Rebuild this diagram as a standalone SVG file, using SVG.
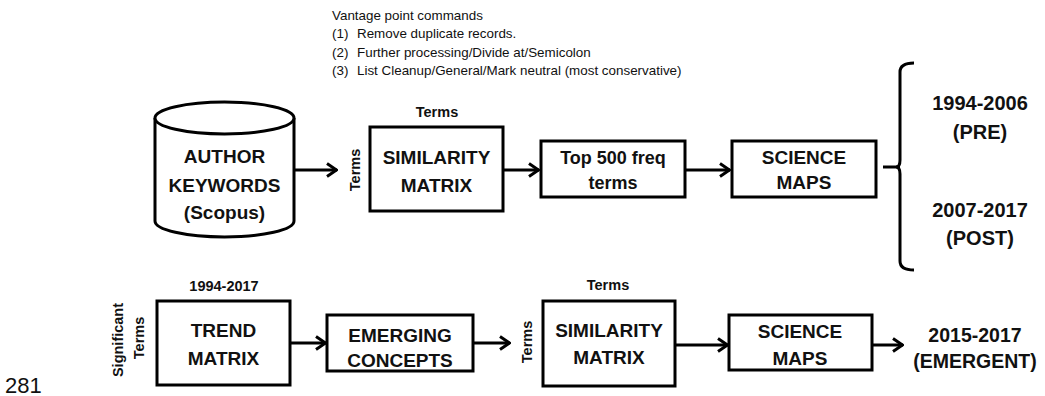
<svg xmlns="http://www.w3.org/2000/svg" width="1045" height="396" viewBox="0 0 1045 396">
  <style>
    .box { fill: #fff; stroke: #000; stroke-width: 3; }
    .lbl { font-family: "Liberation Sans", Arial, sans-serif; font-weight: bold; font-size: 19px; fill: #111; text-anchor: middle; }
    .small { font-family: "Liberation Sans", Arial, sans-serif; font-weight: bold; font-size: 14.5px; fill: #111; text-anchor: middle; }
    .big { font-family: "Liberation Sans", Arial, sans-serif; font-weight: bold; font-size: 20px; fill: #111; text-anchor: middle; }
    .note { font-family: "Liberation Sans", Arial, sans-serif; font-size: 13.4px; fill: #111; }
    .conn { stroke: #000; stroke-width: 3; fill: none; }
  </style>
  <defs>
    <marker id="arr" markerUnits="userSpaceOnUse" viewBox="0 0 12 16" refX="11" refY="8" markerWidth="12" markerHeight="16" orient="auto">
      <path d="M1,1.5 L10.5,8 L1,14.5" fill="none" stroke="#000" stroke-width="3"/>
    </marker>
  </defs>
  <rect width="1045" height="396" fill="#fff"/>

  <g id="notes">
    <text class="note" x="332" y="20">Vantage point commands</text>
    <text class="note" x="332" y="38">(1)</text>
    <text class="note" x="357" y="38">Remove duplicate records.</text>
    <text class="note" x="332" y="57">(2)</text>
    <text class="note" x="357" y="57">Further processing/Divide at/Semicolon</text>
    <text class="note" x="332" y="75">(3)</text>
    <text class="note" x="357" y="75">List Cleanup/General/Mark neutral (most conservative)</text>
  </g>

  <g id="connectors">
    <line class="conn" x1="294" y1="170" x2="337" y2="170" marker-end="url(#arr)"/>
    <line class="conn" x1="503" y1="170" x2="539" y2="170" marker-end="url(#arr)"/>
    <line class="conn" x1="685" y1="170" x2="730" y2="170" marker-end="url(#arr)"/>
    <line class="conn" x1="883" y1="167" x2="900" y2="167"/>
    <path class="conn" d="M914,63 Q900,63 900,72 L900,160 Q900,167 896,167 Q900,167 900,174 L900,261 Q900,270 914,270"/>
    <line class="conn" x1="290" y1="343" x2="326" y2="343" marker-end="url(#arr)"/>
    <line class="conn" x1="473" y1="343" x2="510" y2="343" marker-end="url(#arr)"/>
    <line class="conn" x1="675" y1="345" x2="728" y2="345" marker-end="url(#arr)"/>
    <line class="conn" x1="872" y1="345" x2="903" y2="345" marker-end="url(#arr)"/>
  </g>

  <g id="author-keywords">
    <path class="box" d="M155,118 L155,221 A69.5,16 0 0 0 294,221 L294,118"/>
    <ellipse class="box" cx="224.5" cy="118" rx="69.5" ry="16"/>
    <text class="lbl" x="224.5" y="163">AUTHOR</text>
    <text class="lbl" x="224.5" y="192">KEYWORDS</text>
    <text class="lbl" x="224.5" y="219">(Scopus)</text>
  </g>

  <g id="similarity-matrix-1">
    <rect class="box" x="370" y="127" width="133" height="84"/>
    <text class="lbl" x="436.5" y="164">SIMILARITY</text>
    <text class="lbl" x="436.5" y="192">MATRIX</text>
    <text class="small" x="437" y="117">Terms</text>
    <text class="small" transform="translate(360,170) rotate(-90)">Terms</text>
  </g>

  <g id="top-500">
    <rect class="box" x="541" y="141" width="144" height="56"/>
    <text class="lbl" x="613" y="164" style="font-size:18px">Top 500 freq</text>
    <text class="lbl" x="613" y="189" style="font-size:18px">terms</text>
  </g>

  <g id="science-maps-1">
    <rect class="box" x="732" y="141" width="144" height="56"/>
    <text class="lbl" x="804" y="164">SCIENCE</text>
    <text class="lbl" x="804" y="189">MAPS</text>
  </g>

  <g id="periods">
    <text class="big" x="980" y="110">1994-2006</text>
    <text class="big" x="980" y="139">(PRE)</text>
    <text class="big" x="980" y="217">2007-2017</text>
    <text class="big" x="980" y="245">(POST)</text>
  </g>

  <g id="trend-matrix">
    <rect class="box" x="157" y="301" width="133" height="84"/>
    <text class="lbl" x="223.5" y="337">TREND</text>
    <text class="lbl" x="223.5" y="365">MATRIX</text>
    <text class="small" x="224" y="291">1994-2017</text>
    <text class="small" transform="translate(123,340) rotate(-90)">Significant</text>
    <text class="small" transform="translate(144,338) rotate(-90)">Terms</text>
  </g>

  <g id="emerging-concepts">
    <rect class="box" x="327" y="315" width="146" height="56"/>
    <text class="lbl" x="400" y="342">EMERGING</text>
    <text class="lbl" x="400" y="367">CONCEPTS</text>
  </g>

  <g id="similarity-matrix-2">
    <rect class="box" x="543" y="301" width="132" height="85"/>
    <text class="lbl" x="609" y="337">SIMILARITY</text>
    <text class="lbl" x="609" y="364">MATRIX</text>
    <text class="small" x="608" y="290">Terms</text>
    <text class="small" transform="translate(532,342) rotate(-90)">Terms</text>
  </g>

  <g id="science-maps-2">
    <rect class="box" x="729" y="315" width="143" height="55"/>
    <text class="lbl" x="800" y="338">SCIENCE</text>
    <text class="lbl" x="800" y="365">MAPS</text>
  </g>

  <g id="emergent">
    <text class="big" x="975" y="342" style="font-size:19.5px">2015-2017</text>
    <text class="big" x="975" y="368" style="font-size:19.5px">(EMERGENT)</text>
  </g>

  <g id="line-number">
    <text x="5" y="393" font-family="Liberation Sans, Arial, sans-serif" font-size="22" fill="#111">281</text>
  </g>
</svg>
